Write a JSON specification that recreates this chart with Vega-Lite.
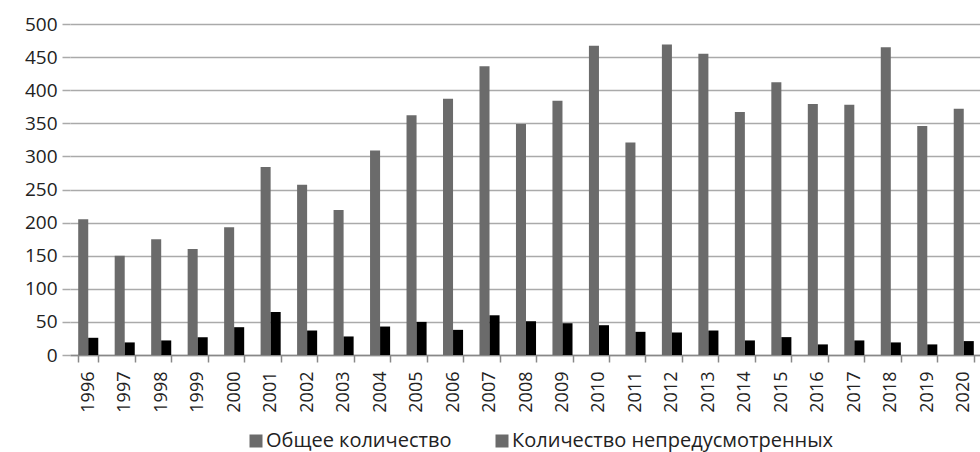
{
  "$schema": "https://vega.github.io/schema/vega-lite/v6.json",
  "autosize": "none",
  "width": 912,
  "height": 331,
  "padding": {"left": 70, "top": 24, "right": 0, "bottom": 97},
  "background": "white",
  "config": {
    "view": {"stroke": null},
    "font": "Open Sans"
  },
  "data": {
    "values": [
      {"year": "1996", "series": "Общее количество", "value": 205},
      {"year": "1997", "series": "Общее количество", "value": 150},
      {"year": "1998", "series": "Общее количество", "value": 175},
      {"year": "1999", "series": "Общее количество", "value": 160},
      {"year": "2000", "series": "Общее количество", "value": 193},
      {"year": "2001", "series": "Общее количество", "value": 284},
      {"year": "2002", "series": "Общее количество", "value": 257},
      {"year": "2003", "series": "Общее количество", "value": 219},
      {"year": "2004", "series": "Общее количество", "value": 309},
      {"year": "2005", "series": "Общее количество", "value": 362},
      {"year": "2006", "series": "Общее количество", "value": 387},
      {"year": "2007", "series": "Общее количество", "value": 436},
      {"year": "2008", "series": "Общее количество", "value": 349},
      {"year": "2009", "series": "Общее количество", "value": 384},
      {"year": "2010", "series": "Общее количество", "value": 467},
      {"year": "2011", "series": "Общее количество", "value": 321},
      {"year": "2012", "series": "Общее количество", "value": 469},
      {"year": "2013", "series": "Общее количество", "value": 455},
      {"year": "2014", "series": "Общее количество", "value": 367},
      {"year": "2015", "series": "Общее количество", "value": 412},
      {"year": "2016", "series": "Общее количество", "value": 379},
      {"year": "2017", "series": "Общее количество", "value": 378},
      {"year": "2018", "series": "Общее количество", "value": 465},
      {"year": "2019", "series": "Общее количество", "value": 346},
      {"year": "2020", "series": "Общее количество", "value": 372},
      {"year": "1996", "series": "Количество непредусмотренных", "value": 26},
      {"year": "1997", "series": "Количество непредусмотренных", "value": 19},
      {"year": "1998", "series": "Количество непредусмотренных", "value": 22},
      {"year": "1999", "series": "Количество непредусмотренных", "value": 27},
      {"year": "2000", "series": "Количество непредусмотренных", "value": 42},
      {"year": "2001", "series": "Количество непредусмотренных", "value": 65},
      {"year": "2002", "series": "Количество непредусмотренных", "value": 37},
      {"year": "2003", "series": "Количество непредусмотренных", "value": 28},
      {"year": "2004", "series": "Количество непредусмотренных", "value": 43},
      {"year": "2005", "series": "Количество непредусмотренных", "value": 50},
      {"year": "2006", "series": "Количество непредусмотренных", "value": 38},
      {"year": "2007", "series": "Количество непредусмотренных", "value": 60},
      {"year": "2008", "series": "Количество непредусмотренных", "value": 51},
      {"year": "2009", "series": "Количество непредусмотренных", "value": 48},
      {"year": "2010", "series": "Количество непредусмотренных", "value": 45},
      {"year": "2011", "series": "Количество непредусмотренных", "value": 35},
      {"year": "2012", "series": "Количество непредусмотренных", "value": 34},
      {"year": "2013", "series": "Количество непредусмотренных", "value": 37},
      {"year": "2014", "series": "Количество непредусмотренных", "value": 22},
      {"year": "2015", "series": "Количество непредусмотренных", "value": 27},
      {"year": "2016", "series": "Количество непредусмотренных", "value": 16},
      {"year": "2017", "series": "Количество непредусмотренных", "value": 22},
      {"year": "2018", "series": "Количество непредусмотренных", "value": 19},
      {"year": "2019", "series": "Количество непредусмотренных", "value": 16},
      {"year": "2020", "series": "Количество непредусмотренных", "value": 21}
    ]
  },
  "mark": {"type": "bar"},
  "encoding": {
    "x": {
      "field": "year",
      "type": "nominal",
      "scale": {"paddingInner": 0.45, "paddingOuter": 0.225},
      "axis": {
        "title": null,
        "labelAngle": -90,
        "labelAlign": "right",
        "labelBaseline": "middle",
        "labelFontSize": 18,
        "labelColor": "#222222",
        "labelPadding": 9,
        "tickBand": "extent",
        "tickSize": 7,
        "tickColor": "#888888",
        "domainColor": "#888888",
        "domainWidth": 1.5,
        "tickWidth": 1.5
      }
    },
    "xOffset": {
      "field": "series",
      "type": "nominal",
      "sort": ["Общее количество", "Количество непредусмотренных"],
      "scale": {"paddingInner": 0, "paddingOuter": 0}
    },
    "y": {
      "field": "value",
      "type": "quantitative",
      "scale": {"domain": [0, 500], "nice": false},
      "axis": {
        "title": null,
        "values": [0, 50, 100, 150, 200, 250, 300, 350, 400, 450, 500],
        "labelFontSize": 19,
        "labelColor": "#222222",
        "labelPadding": 5,
        "domain": false,
        "tickSize": 8,
        "tickColor": "#aaaaaa",
        "tickWidth": 1.5,
        "gridColor": "#aaaaaa",
        "gridWidth": 1.5
      }
    },
    "color": {
      "field": "series",
      "type": "nominal",
      "scale": {
        "domain": ["Общее количество", "Количество непредусмотренных"],
        "range": ["#6b6b6b", "#000000"]
      },
      "legend": {
        "title": null,
        "orient": "none",
        "direction": "horizontal",
        "legendX": 176,
        "legendY": 407,
        "symbolType": "square",
        "symbolSize": 16,
        "symbolStrokeColor": "#6b6b6b",
        "symbolStrokeWidth": 9,
        "labelFontSize": 20,
        "labelColor": "#222222",
        "labelLimit": 500,
        "columnPadding": 30,
        "labelOffset": 0
      }
    }
  }
}
